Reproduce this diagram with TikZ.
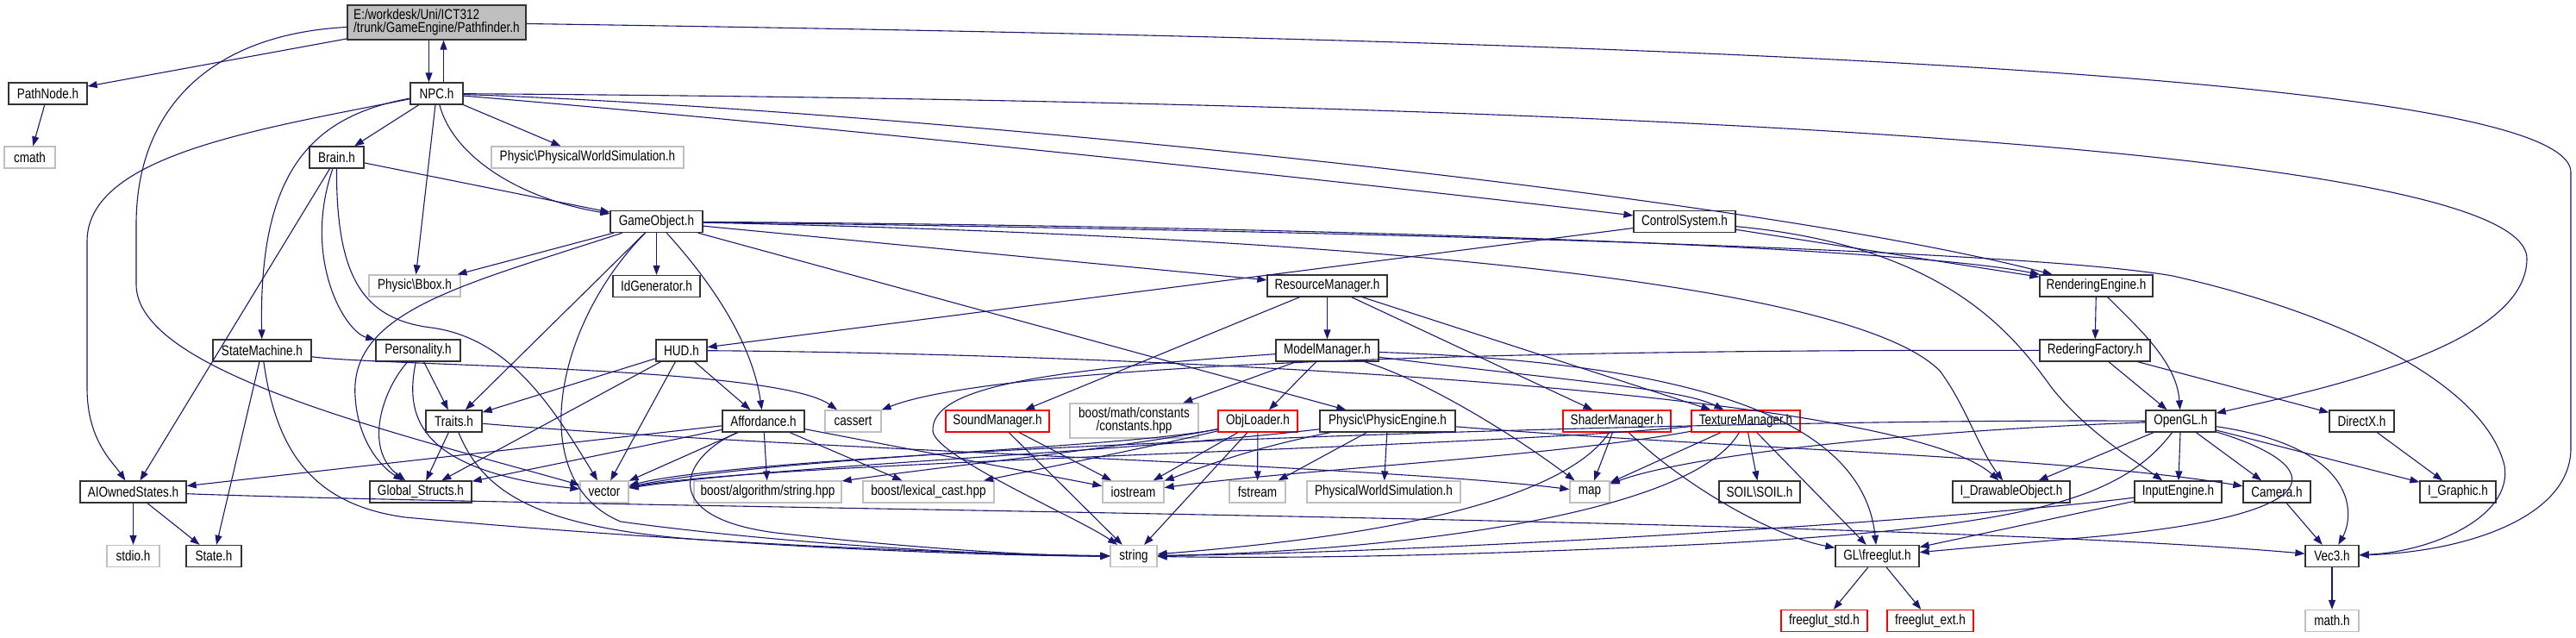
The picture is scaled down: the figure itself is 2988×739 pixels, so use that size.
\documentclass[tikz,border=0pt]{standalone}
\usepackage{fontspec}
\setmainfont{Liberation Sans}[FakeStretch=0.82]
\usepackage{tikz}
\usetikzlibrary{arrows.meta}

\definecolor{edgeblue}{HTML}{191970}
\definecolor{extgray}{HTML}{BFBFBF}

\tikzset{
  box/.style={rectangle, inner sep=0pt, minimum height=25pt, fill=white,
    font=\fontsize{16.5}{15}\selectfont},
  hdr/.style={box, draw=black!80, line width=1.3pt},
  ext/.style={box, draw=extgray, line width=1.3pt},
  trunc/.style={box, draw=red, line width=1.3pt},
  root/.style={box, draw=black!80, fill=extgray, line width=1.3pt, align=left, minimum height=40pt},
  dep/.style={draw=edgeblue, line width=1.1pt, -{Triangle[length=11pt,width=8pt]}},
}

\begin{document}
\begin{tikzpicture}[x=1pt, y=-1pt]
    \useasboundingbox (0,0) rectangle (2988,739);

    % top rows
    \node[root, minimum width=207pt] (pf) at (506.5,26) {E:/workdesk/Uni/ICT312\\/trunk/GameEngine/Pathfinder.h};
    \node[hdr, minimum width=91pt] (pnode) at (55.5,108.5) {PathNode.h};
    \node[ext, minimum width=59pt] (cmath) at (34.5,182.5) {cmath};
    \node[hdr, minimum width=61pt] (npc) at (506.5,108.5) {NPC.h};
    \node[hdr, minimum width=63pt] (brain) at (390.5,182.5) {Brain.h};
    \node[ext, minimum width=223pt] (pws) at (681.5,182.5) {Physic\textbackslash PhysicalWorldSimulation.h};
    \node[hdr, minimum width=107pt] (gobj) at (761.5,257) {GameObject.h};
    \node[hdr, minimum width=118pt] (ctrl) at (1954,257) {ControlSystem.h};
    \node[ext, minimum width=106pt] (bbox) at (481,331.5) {Physic\textbackslash Bbox.h};
    \node[hdr, minimum width=101pt] (idgen) at (761.5,332) {IdGenerator.h};
    \node[hdr, minimum width=139pt] (resmgr) at (1539.5,331.5) {ResourceManager.h};
    \node[hdr, minimum width=131pt] (rendeng) at (2431.5,331.5) {RenderingEngine.h};
    \node[hdr, minimum width=114pt] (statem) at (304,406.5) {StateMachine.h};
    \node[hdr, minimum width=98pt] (pers) at (485,406.5) {Personality.h};
    \node[hdr, minimum width=59pt] (hud) at (790.5,406.5) {HUD.h};
    \node[hdr, minimum width=119pt] (modmgr) at (1539.5,406.5) {ModelManager.h};
    \node[hdr, minimum width=128pt] (rendfac) at (2430,406.5) {RederingFactory.h};

    % middle row
    \node[hdr, minimum width=65pt] (traits) at (526.5,488.5) {Traits.h};
    \node[hdr, minimum width=95pt] (afford) at (885.5,488.5) {Affordance.h};
    \node[ext, minimum width=65pt] (cassert) at (989.5,488.5) {cassert};
    \node[trunc, minimum width=120pt] (sound) at (1157,488.5) {SoundManager.h};
    \node[ext, minimum width=149pt, minimum height=40pt, align=center] (bconst) at (1315.5,488) {boost/math/constants\\/constants.hpp};
    \node[trunc, minimum width=92pt] (objl) at (1459,488.5) {ObjLoader.h};
    \node[hdr, minimum width=157pt] (phyeng) at (1609.5,488.5) {Physic\textbackslash PhysicEngine.h};
    \node[trunc, minimum width=125pt] (shader) at (1875.5,488.5) {ShaderManager.h};
    \node[trunc, minimum width=126pt] (texture) at (2025,488.5) {TextureManager.h};
    \node[hdr, minimum width=81pt] (opengl) at (2529.5,488.5) {OpenGL.h};
    \node[hdr, minimum width=75pt] (directx) at (2739.5,488.5) {DirectX.h};

    % lower rows
    \node[hdr, minimum width=123pt] (aiown) at (154.5,570.5) {AIOwnedStates.h};
    \node[hdr, minimum width=118pt] (glob) at (488,570.5) {Global\_Structs.h};
    \node[ext, minimum width=56pt] (vector) at (701,570.5) {vector};
    \node[ext, minimum width=171pt] (balgo) at (890.5,570.5) {boost/algorithm/string.hpp};
    \node[ext, minimum width=152pt] (blex) at (1077,570.5) {boost/lexical\_cast.hpp};
    \node[ext, minimum width=71pt] (iostream) at (1314.5,570.5) {iostream};
    \node[ext, minimum width=65pt] (fstream) at (1458.5,570.5) {fstream};
    \node[ext, minimum width=178pt] (pws2) at (1605,570.5) {PhysicalWorldSimulation.h};
    \node[ext, minimum width=46pt] (map) at (1844,570.5) {map};
    \node[hdr, minimum width=94pt] (soil) at (2041,570.5) {SOIL\textbackslash SOIL.h};
    \node[hdr, minimum width=136pt] (idraw) at (2333,570.5) {I\_DrawableObject.h};
    \node[hdr, minimum width=101pt] (input) at (2526.5,570.5) {InputEngine.h};
    \node[hdr, minimum width=78pt] (camera) at (2641,570.5) {Camera.h};
    \node[hdr, minimum width=88pt] (igraph) at (2851,570.5) {I\_Graphic.h};
    \node[ext, minimum width=61pt] (stdio) at (154.5,645) {stdio.h};
    \node[hdr, minimum width=64pt] (state) at (248,645) {State.h};
    \node[ext, minimum width=54pt] (string) at (1315,645) {string};
    \node[hdr, minimum width=97pt] (freeglut) at (2177.5,645) {GL\textbackslash freeglut.h};
    \node[hdr, minimum width=62pt] (vec3) at (2705,645) {Vec3.h};
    \node[trunc, minimum width=100pt] (fstd) at (2116,720) {freeglut\_std.h};
    \node[trunc, minimum width=100pt] (fext) at (2239,720) {freeglut\_ext.h};
    \node[ext, minimum width=62pt] (math) at (2705,720) {math.h};

    % Pathfinder and NPC
    \draw[dep] (pf) -- (pnode);
    \draw[dep] (pnode) -- (cmath);
    \draw[dep] ([xshift=-9pt]pf.south) -- ([xshift=-9pt]npc.north);
    \draw[dep] ([xshift=8pt]npc.north) -- ([xshift=8pt]pf.south);
    \draw[dep] (pf) .. controls (240,40) and (158,130) .. (158,260) -- (158,330) .. controls (158,430) and (450,500) .. (vector);
    \draw[dep] (pf) .. controls (1800,45) and (2982,80) .. (2982,200) -- (2982,520) .. controls (2982,600) and (2860,640) .. (vec3);
    \draw[dep] (npc) -- (brain);
    \draw[dep] (npc) -- (pws);
    \draw[dep] (npc) .. controls (525,180) and (600,230) .. (gobj);
    \draw[dep] (npc) -- (bbox);
    \draw[dep] (npc) .. controls (360,135) and (300,200) .. (statem);
    \draw[dep] (npc) .. controls (300,150) and (101,180) .. (101,280) -- (101,450) .. controls (101,510) and (130,535) .. (aiown);
    \draw[dep] (npc) .. controls (1000,150) and (1600,215) .. (ctrl);
    \draw[dep] (npc) .. controls (1000,125) and (2000,220) .. (rendeng);
    \draw[dep] (npc) .. controls (1500,115) and (2931,150) .. (2931,300) .. controls (2931,400) and (2700,450) .. (opengl);

    % Brain, StateMachine, Personality
    \draw[dep] (brain) -- (gobj);
    \draw[dep] (brain) -- (aiown);
    \draw[dep] (brain) .. controls (350,300) and (400,385) .. (pers);
    \draw[dep] (brain) .. controls (390,320) and (420,370) .. (500,380) .. controls (590,392) and (640,470) .. (vector);
    \draw[dep] (statem) -- (state);
    \draw[dep] (statem) .. controls (320,520) and (360,585) .. (470,600) .. controls (800,630) and (1100,642) .. (string);
    \draw[dep] (statem) .. controls (450,425) and (900,425) .. (cassert);
    \draw[dep] (pers) -- (traits);
    \draw[dep] (pers) .. controls (445,450) and (420,520) .. (glob);
    \draw[dep] (pers) .. controls (470,480) and (480,545) .. (vector);

    % GameObject
    \draw[dep] (gobj) -- (bbox);
    \draw[dep] (gobj) -- (traits);
    \draw[dep] (gobj) .. controls (540,330) and (405,360) .. (412,460) .. controls (415,510) and (440,540) .. (glob);
    \draw[dep] (gobj) .. controls (640,380) and (610,560) .. (720,605) .. controls (900,630) and (1150,645) .. (string);
    \draw[dep] (gobj) -- (idgen);
    \draw[dep] (gobj) .. controls (800,300) and (870,380) .. (afford);
    \draw[dep] (gobj) -- (resmgr);
    \draw[dep] (gobj) -- (phyeng);
    \draw[dep] (gobj) .. controls (1500,262) and (2200,285) .. (rendeng);
    \draw[dep] (gobj) .. controls (1600,275) and (2150,330) .. (2250,430) .. controls (2280,470) and (2295,520) .. (idraw);
    \draw[dep] (gobj) .. controls (1600,268) and (2350,290) .. (2520,320) .. controls (2700,360) and (2880,440) .. (2905,540) .. controls (2915,600) and (2820,640) .. (vec3);

    % ControlSystem and rendering
    \draw[dep] (ctrl) -- (rendeng);
    \draw[dep] (ctrl) -- (hud);
    \draw[dep] (ctrl) .. controls (2250,285) and (2330,380) .. (2380,450) .. controls (2420,500) and (2470,530) .. (input);
    \draw[dep] (rendeng) -- (rendfac);
    \draw[dep] (rendeng) .. controls (2480,380) and (2525,420) .. (opengl);
    \draw[dep] (rendfac) -- (opengl);
    \draw[dep] (rendfac) -- (directx);
    \draw[dep] (rendfac) .. controls (1700,405) and (1150,425) .. (cassert);

    % resources
    \draw[dep] (resmgr) -- (modmgr);
    \draw[dep] (resmgr) -- (sound);
    \draw[dep] (resmgr) -- (shader);
    \draw[dep] (resmgr) -- (texture);
    \draw[dep] (modmgr) -- (bconst);
    \draw[dep] (modmgr) -- (objl);
    \draw[dep] (modmgr) .. controls (1800,440) and (1950,450) .. (texture);
    \draw[dep] (modmgr) .. controls (1650,440) and (1750,500) .. (map);
    \draw[dep] (modmgr) .. controls (1950,420) and (2160,480) .. (freeglut);
    \draw[dep] (modmgr) .. controls (1200,430) and (1080,450) .. (1082,500) .. controls (1085,530) and (1250,600) .. (string);

    % HUD, Affordance, Traits
    \draw[dep] (hud) -- (traits);
    \draw[dep] (hud) -- (afford);
    \draw[dep] (hud) -- (glob);
    \draw[dep] (hud) -- (vector);
    \draw[dep] (hud) .. controls (1300,410) and (2200,450) .. (idraw);
    \draw[dep] (afford) -- (aiown);
    \draw[dep] (afford) -- (glob);
    \draw[dep] (afford) -- (vector);
    \draw[dep] (afford) -- (balgo);
    \draw[dep] (afford) -- (blex);
    \draw[dep] (afford) -- (iostream);
    \draw[dep] (afford) .. controls (790,530) and (760,600) .. (900,618) .. controls (1050,635) and (1200,645) .. (string);
    \draw[dep] (traits) -- (glob);
    \draw[dep] (traits) .. controls (560,570) and (620,610) .. (800,625) .. controls (1000,640) and (1200,645) .. (string);
    \draw[dep] (traits) .. controls (900,520) and (1600,540) .. (map);

    % managers and loaders
    \draw[dep] (sound) -- (iostream);
    \draw[dep] (sound) -- (string);
    \draw[dep] (objl) -- (iostream);
    \draw[dep] (objl) -- (fstream);
    \draw[dep] (objl) -- (string);
    \draw[dep] (objl) .. controls (1300,520) and (900,530) .. (vector);
    \draw[dep] (objl) .. controls (1300,520) and (1100,540) .. (balgo);
    \draw[dep] (objl) .. controls (1350,515) and (1250,535) .. (blex);
    \draw[dep] (phyeng) -- (pws2);
    \draw[dep] (phyeng) -- (fstream);
    \draw[dep] (phyeng) .. controls (1450,520) and (1400,540) .. (iostream);
    \draw[dep] (phyeng) .. controls (1300,525) and (900,540) .. (vector);
    \draw[dep] (phyeng) .. controls (2000,520) and (2400,530) .. (camera);
    \draw[dep] (shader) -- (map);
    \draw[dep] (shader) .. controls (1800,600) and (1500,630) .. (string);
    \draw[dep] (shader) .. controls (1950,560) and (2050,620) .. (freeglut);
    \draw[dep] (texture) -- (soil);
    \draw[dep] (texture) -- (map);
    \draw[dep] (texture) -- (freeglut);
    \draw[dep] (texture) .. controls (1800,530) and (1500,545) .. (iostream);
    \draw[dep] (texture) .. controls (1960,600) and (1600,640) .. (string);
    \draw[dep] (texture) .. controls (1700,520) and (900,535) .. (vector);

    % OpenGL side
    \draw[dep] (opengl) -- (idraw);
    \draw[dep] (opengl) -- (input);
    \draw[dep] (opengl) -- (camera);
    \draw[dep] (opengl) -- (igraph);
    \draw[dep] (opengl) .. controls (2740,520) and (2730,600) .. (vec3);
    \draw[dep] (opengl) .. controls (2700,540) and (2720,600) .. (2400,625) -- (freeglut);
    \draw[dep] (opengl) .. controls (2460,580) and (2350,610) .. (2000,630) .. controls (1700,645) and (1500,648) .. (string);
    \draw[dep] (opengl) .. controls (2200,500) and (1950,530) .. (map);
    \draw[dep] (opengl) .. controls (2000,485) and (900,520) .. (vector);
    \draw[dep] (input) -- (freeglut);
    \draw[dep] (input) .. controls (2300,600) and (1700,640) .. (string);
    \draw[dep] (camera) -- (vec3);
    \draw[dep] (directx) -- (igraph);
    \draw[dep] (aiown) -- (stdio);
    \draw[dep] (aiown) -- (state);
    \draw[dep] (aiown) .. controls (700,590) and (2200,600) .. (vec3);
    \draw[dep] (freeglut) -- (fstd);
    \draw[dep] (freeglut) -- (fext);
    \draw[dep] (vec3) -- (math);
\end{tikzpicture}
\end{document}
